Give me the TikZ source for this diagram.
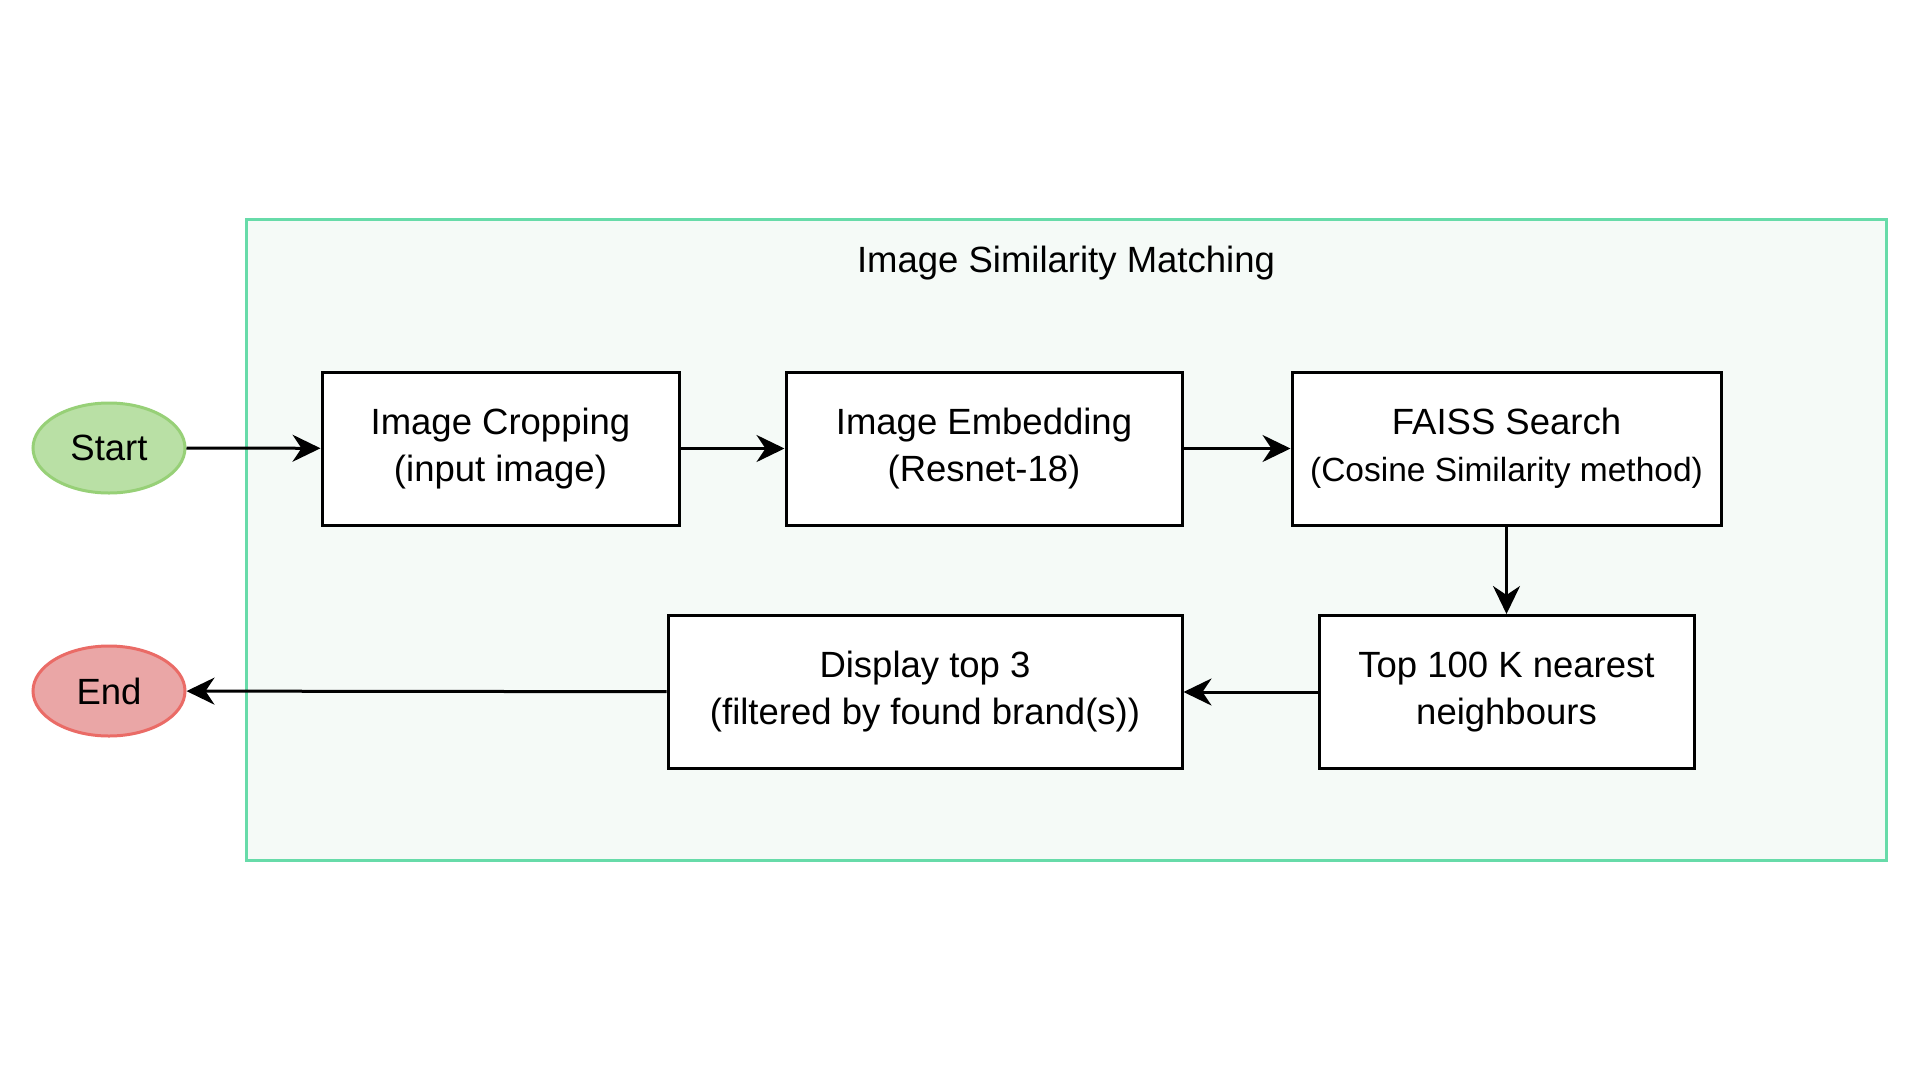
\documentclass[tikz,border=0pt]{standalone}
\usepackage{fontspec}
\setmainfont{Liberation Sans}
\usetikzlibrary{arrows.meta,shapes.geometric}
\definecolor{contborder}{HTML}{67DBA9}
\definecolor{contfill}{HTML}{F5FAF7}
\definecolor{startfill}{HTML}{B9E0A5}
\definecolor{startdraw}{HTML}{97D077}
\definecolor{endfill}{HTML}{EAA6A6}
\definecolor{enddraw}{HTML}{EA6B66}
\tikzset{
  every node/.style={font=\fontsize{36.5}{47}\selectfont},
  procbox/.style={draw=black, line width=3pt, fill=white, minimum height=153pt, inner sep=0pt, align=center},
  term/.style={ellipse, line width=3pt, minimum width=152pt, minimum height=90pt, inner sep=0pt},
  flow/.style={line width=3pt, -{Stealth[length=28pt,width=27pt,inset=9pt]}}
}
\begin{document}
\begin{tikzpicture}[x=1pt,y=-1pt]
\useasboundingbox (0,0) rectangle (1920,1080);
\fill[white] (0,0) rectangle (1920,1080);
\draw[draw=contborder, fill=contfill, line width=3pt] (246,219) rectangle (1886,860);
\node (title) at (1066,263) {Image Similarity Matching};
\node[term, fill=startfill, draw=startdraw] (start) at (109,448) {Start};
\node[term, fill=endfill, draw=enddraw] (end) at (109,691) {End};
\node[procbox, minimum width=357pt] (crop) at (500.5,448.5) {Image Cropping\\(input image)};
\node[procbox, minimum width=396pt] (embed) at (984,448.5) {Image Embedding\\(Resnet-18)};
\node[procbox, minimum width=429pt] (faiss) at (1506.5,448.5) {FAISS Search\\{\fontsize{33.5}{47}\selectfont (Cosine Similarity method)}};
\node[procbox, minimum width=375pt] (topk) at (1506.5,692) {Top 100 K nearest\\neighbours};
\node[procbox, minimum width=514pt] (disp) at (925,692) {Display top 3\\(filtered by found brand(s))};
\draw[flow] (start) -- (crop);
\draw[flow] (crop) -- (embed);
\draw[flow] (embed) -- (faiss);
\draw[flow] (faiss) -- (topk);
\draw[flow] (topk) -- (disp);
\draw[flow] (disp) -- (end);
\end{tikzpicture}
\end{document}
